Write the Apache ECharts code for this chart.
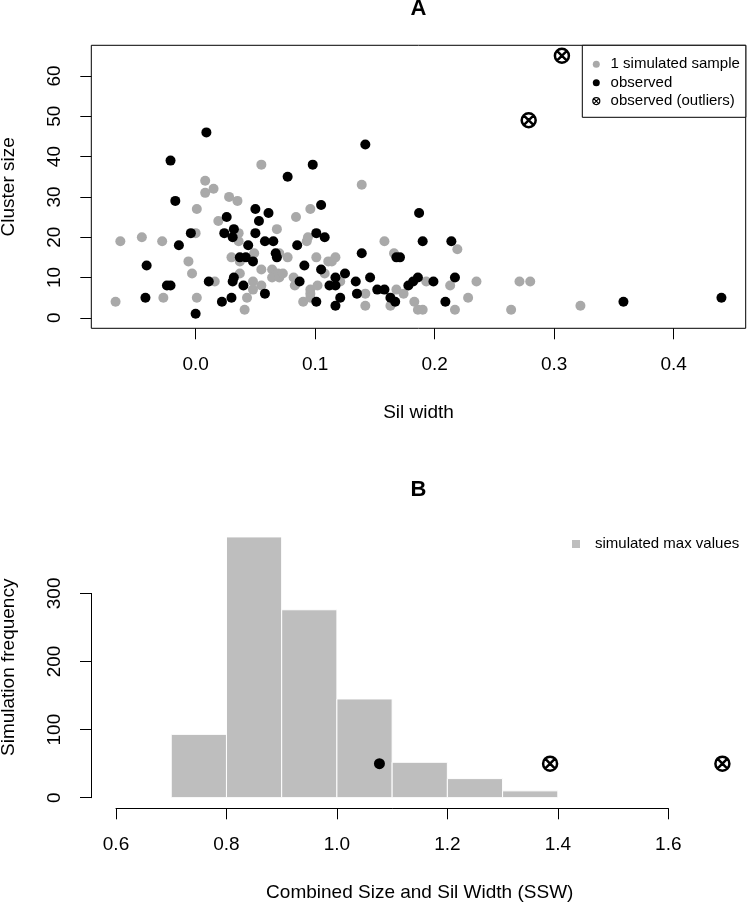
<!DOCTYPE html>
<html>
<head>
<meta charset="utf-8">
<script src="https://cdn.jsdelivr.net/npm/echarts@6/dist/echarts.min.js"></script>
<style>html,body{margin:0;padding:0;background:#fff}#c{width:747px;height:904px}</style>
</head>
<body>
<div id="c"></div>
<script>
// ---- Panel A: simulated sample (gray) ----
const simX = [-0.067,-0.063,-0.045,-0.028,-0.027,-0.006,-0.003,0.000,0.001,0.001,0.008,0.008,0.015,0.016,0.019,0.028,0.030,0.035,0.036,0.036,0.037,0.037,0.041,0.043,0.048,0.048,0.049,0.055,0.055,0.055,0.064,0.064,0.068,0.069,0.070,0.070,0.073,0.077,0.082,0.083,0.084,0.090,0.093,0.094,0.096,0.096,0.096,0.096,0.101,0.102,0.108,0.111,0.114,0.117,0.121,0.139,0.142,0.142,0.158,0.163,0.166,0.168,0.174,0.183,0.186,0.190,0.193,0.213,0.217,0.219,0.228,0.235,0.264,0.271,0.280,0.322];
const simY = [4,19,20,19,5,14,11,21,5,27,34,31,32,9,24,30,15,29,21,19,14,11,2,5,9,7,16,38,12,8,12,10,22,11,16,10,11,15,10,8,25,4,19,20,27,7,6,5,15,8,11,14,14,15,9,33,6,3,19,3,16,7,6,4,2,2,9,8,2,17,5,9,2,9,9,3];
// ---- Panel A: observed (black) ----
const obsX = [-0.042,-0.041,-0.024,-0.021,-0.021,-0.017,-0.014,-0.004,0.000,0.009,0.011,0.022,0.024,0.026,0.030,0.031,0.031,0.032,0.032,0.037,0.040,0.042,0.044,0.048,0.050,0.050,0.053,0.058,0.058,0.061,0.065,0.067,0.068,0.077,0.085,0.087,0.091,0.098,0.101,0.101,0.105,0.105,0.108,0.112,0.117,0.117,0.117,0.121,0.125,0.134,0.135,0.139,0.142,0.146,0.152,0.158,0.163,0.167,0.168,0.171,0.178,0.182,0.186,0.187,0.190,0.199,0.209,0.214,0.217,0.358,0.440];
const obsY = [5,13,8,8,39,29,18,21,1,46,9,4,21,25,5,20,9,22,10,15,8,15,18,14,27,21,24,19,6,26,19,16,15,35,18,9,13,38,21,4,28,12,20,8,8,10,3,5,11,9,6,16,43,10,7,7,5,4,15,15,8,9,10,26,19,9,4,19,10,4,5];
// ---- Panel A: observed outliers ----
const outX = [0.3065,0.2787];
const outY = [65,49];
const aXTicks = [0,0.1,0.2,0.3,0.4];
const aYTicks = [0,10,20,30,40,50,60];

// ---- Panel B: histogram of simulated max values ----
const binStart = [0.7,0.8,0.9,1.0,1.1,1.2,1.3];
const binEnd   = [0.8,0.9,1.0,1.1,1.2,1.3,1.4];
const binCount = [93,383,276,145,52,28,10];
const obsSSWx = [1.077];
const obsSSWy = [50];
const outSSWx = [1.386,1.698];
const outSSWy = [50,50];

const FONT = 'Liberation Sans, Arial, Helvetica, sans-serif';
const OUT_SYM = 'path://M10,0A10,10 0 1,1 10,20A10,10 0 1,1 10,0Z M2.93,2.93L17.07,17.07M17.07,2.93L2.93,17.07';
const zip = (xs, ys) => xs.map((x, i) => [x, ys[i]]);

const lbl = {color:'#000', fontSize:19, fontFamily:FONT, margin:27};
const nameStyle = {color:'#000', fontSize:19, fontFamily:FONT};
const tick = {show:true, length:11, lineStyle:{color:'#000', width:1}};
const noLine = {show:false, onZero:false};
const gridBase = {outerBoundsMode:'none', containLabel:false};

const chart = echarts.init(document.getElementById('c'), null, {renderer:'canvas'});
chart.setOption({
  animation:false,
  backgroundColor:'#fff',
  textStyle:{fontFamily:FONT},
  title:[
    {text:'A', left:410.5, top:-2.2, padding:0, textStyle:{fontSize:22, fontWeight:'bold', color:'#000', fontFamily:FONT}},
    {text:'B', left:410.5, top:478.5, padding:0, textStyle:{fontSize:22, fontWeight:'bold', color:'#000', fontFamily:FONT}}
  ],
  legend:[
    {
      left:582.3, top:45.3, orient:'vertical',
      padding:[9.8,6,7,9.9], itemGap:0,
      itemWidth:7, itemHeight:7, symbolKeepAspect:true,
      borderColor:'#000', borderWidth:1, borderRadius:0, backgroundColor:'#fff',
      textStyle:{fontSize:15, color:'#000', fontFamily:FONT, lineHeight:18.4, padding:[0,0,0,5.8]},
      data:[
        {name:'1 simulated sample', icon:'circle'},
        {name:'observed', icon:'circle'},
        {name:'observed (outliers)', icon:OUT_SYM, itemStyle:{borderWidth:1.2, borderColor:'#000', color:'rgba(0,0,0,0)'}}
      ],
      selectedMode:false
    },
    {
      left:572, top:535, orient:'vertical', padding:0,
      itemWidth:8, itemHeight:8,
      textStyle:{fontSize:15, color:'#000', fontFamily:FONT, lineHeight:18, padding:[0,0,0,10]},
      data:[{name:'simulated max values', icon:'rect'}],
      selectedMode:false
    }
  ],
  grid:[
    Object.assign({left:91.3, top:45.3, width:654.4, height:283, show:true, borderColor:'#000', borderWidth:1, backgroundColor:'transparent'}, gridBase),
    Object.assign({left:91.7, top:526.5, width:656.1, height:281.6}, gridBase),
    Object.assign({left:116, top:798.3, width:552.3, height:10}, gridBase),
    Object.assign({left:91, top:593.4, width:10, height:204.3}, gridBase)
  ],
  xAxis:[
    {gridIndex:0, type:'value', min:-0.0873, max:0.4603,
     axisLine:noLine, splitLine:{show:false},
     axisTick:Object.assign({customValues:aXTicks}, tick),
     axisLabel:Object.assign({customValues:aXTicks, formatter:v=>v.toFixed(1), showMinLabel:true, showMaxLabel:true}, lbl),
     name:'Sil width', nameLocation:'middle', nameGap:75.2, nameTextStyle:nameStyle},
    {gridIndex:1, type:'value', min:0.556, max:1.744,
     axisLine:noLine, axisTick:{show:false}, axisLabel:{show:false}, splitLine:{show:false},
     name:'Combined Size and Sil Width (SSW)', nameLocation:'middle', nameGap:75.4, nameTextStyle:nameStyle},
    {gridIndex:2, type:'value', min:0.6, max:1.6, interval:0.2,
     axisLine:{show:true, onZero:false, lineStyle:{color:'#000', width:1}}, axisTick:tick, splitLine:{show:false},
     axisLabel:Object.assign({formatter:v=>v.toFixed(1), showMinLabel:true, showMaxLabel:true}, lbl)},
    {gridIndex:3, type:'value', min:0, max:1, show:false}
  ],
  yAxis:[
    {gridIndex:0, type:'value', min:-2.6, max:67.6,
     axisLine:noLine, splitLine:{show:false},
     axisTick:Object.assign({customValues:aYTicks}, tick),
     axisLabel:Object.assign({customValues:aYTicks, rotate:90, showMinLabel:true, showMaxLabel:true}, lbl),
     name:'Cluster size', nameLocation:'middle', nameGap:72.8, nameTextStyle:nameStyle},
    {gridIndex:1, type:'value', min:-15.32, max:398.32,
     axisLine:noLine, axisTick:{show:false}, axisLabel:{show:false}, splitLine:{show:false},
     name:'Simulation frequency', nameLocation:'middle', nameGap:73.5, nameTextStyle:nameStyle},
    {gridIndex:2, type:'value', min:0, max:1, show:false},
    {gridIndex:3, type:'value', min:0, max:300, interval:100,
     axisLine:{show:true, onZero:false, lineStyle:{color:'#000', width:1}}, axisTick:tick, splitLine:{show:false},
     axisLabel:Object.assign({rotate:90, showMinLabel:true, showMaxLabel:true}, lbl)}
  ],
  series:[
    {name:'1 simulated sample', type:'scatter', xAxisIndex:0, yAxisIndex:0,
     symbol:'circle', symbolSize:10, itemStyle:{color:'#A9A9A9', opacity:1},
     data:zip(simX, simY), z:2},
    {name:'observed', type:'scatter', xAxisIndex:0, yAxisIndex:0,
     symbol:'circle', symbolSize:10, itemStyle:{color:'#000', opacity:1},
     data:zip(obsX, obsY), z:3},
    {name:'observed (outliers)', type:'scatter', xAxisIndex:0, yAxisIndex:0,
     symbol:OUT_SYM, symbolSize:14, itemStyle:{color:'rgba(0,0,0,0)', borderColor:'#000', borderWidth:2.5, opacity:1},
     data:zip(outX, outY), z:4},
    {name:'simulated max values', type:'custom', xAxisIndex:1, yAxisIndex:1,
     itemStyle:{color:'#BEBEBE'},
     encode:{x:[0,1], y:2},
     data:binStart.map((s,i)=>[s, binEnd[i], binCount[i]]),
     renderItem:function(params, api){
       const p0 = api.coord([api.value(0), 0]);
       const p1 = api.coord([api.value(1), api.value(2)]);
       return {type:'rect', shape:{x:p0[0], y:p1[1], width:p1[0]-p0[0], height:p0[1]-p1[1]},
               style:{fill:'#BEBEBE', stroke:'#fff', lineWidth:1}};
     }, z:2},
    {name:'observed SSW', type:'scatter', xAxisIndex:1, yAxisIndex:1,
     symbol:'circle', symbolSize:11, itemStyle:{color:'#000', opacity:1},
     data:zip(obsSSWx, obsSSWy), z:3},
    {name:'observed SSW (outliers)', type:'scatter', xAxisIndex:1, yAxisIndex:1,
     symbol:OUT_SYM, symbolSize:14, itemStyle:{color:'rgba(0,0,0,0)', borderColor:'#000', borderWidth:2.5, opacity:1},
     data:zip(outSSWx, outSSWy), z:4}
  ]
});
</script>
</body>
</html>
